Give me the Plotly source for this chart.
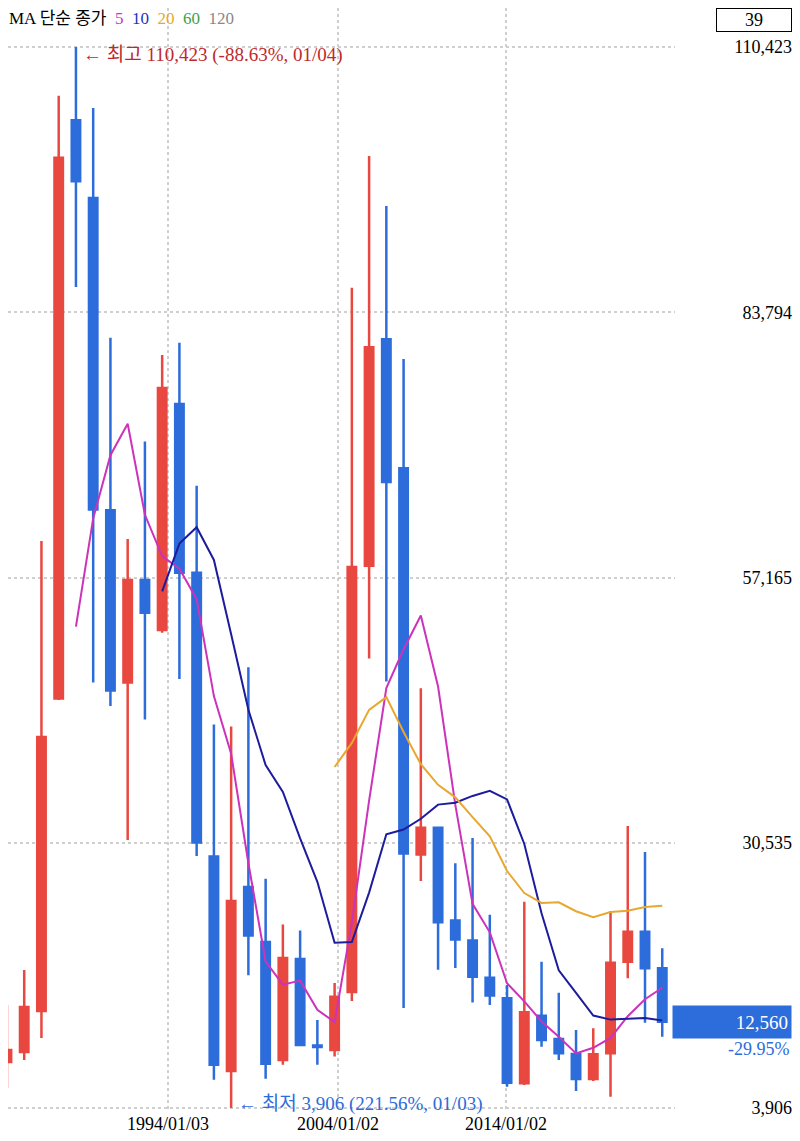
import plotly.graph_objects as go

# yearly candles 1985..2023
years = list(range(1985, 2024))
opens = [8524, 9528, 13645, 45010, 103071, 95270, 63905, 46616, 56917, 51897,
         74588, 57640, 29167, 7621, 26094, 20572, 8735, 18876, 10181, 9739,
         15552, 58343, 81073, 68122, 29347, 32048, 22731, 20713, 16978, 14920,
         6386, 13173, 10834, 9328, 6818, 9398, 18595, 21607, 17931]
highs = [14247, 17761, 60833, 105531, 110423, 104306, 81234, 61034, 70823, 79507,
         80742, 66385, 42409, 42209, 48152, 26918, 22329, 21727, 12741, 16456,
         86254, 99487, 94467, 79106, 46034, 32118, 28484, 31014, 23303, 16255,
         24619, 18595, 15482, 11737, 11908, 23685, 32219, 29608, 19940]
lows = [5914, 8725, 10934, 44869, 86334, 46616, 44267, 30813, 42911, 51626,
        46978, 29207, 6747, 3906, 17229, 6848, 8243, 10131, 8243, 9087,
        14649, 49026, 46727, 13946, 26697, 17781, 17962, 14498, 14247, 6045,
        6215, 10061, 8725, 5613, 6617, 5041, 16928, 12470, 11065]
closes = [9729, 14046, 41154, 99316, 96957, 63995, 45813, 56917, 53634, 76194,
          57640, 30572, 8243, 24689, 21225, 8344, 18976, 10231, 10030, 15081,
          58222, 80270, 66756, 29458, 32048, 22560, 20833, 17089, 15191, 6446,
          13514, 10733, 9398, 6818, 9297, 18494, 21607, 17932, 12560]

ma5 = [52240, 63094, 69447, 72600, 63463, 59311, 58040, 54991, 45257, 39468,
       28474, 18615, 16295, 16693, 13761, 12532, 22508, 34767, 46072, 49957,
       53351, 46218, 34331, 24398, 21544, 16424, 14615, 12595, 11056, 9382,
       9952, 10948, 13123, 14830, 15978]
ma10 = [55776, 60567, 62219, 58928, 51465, 43892, 38327, 35643, 30975, 26614,
        20503, 20561, 25531, 31382, 31859, 32942, 34363, 34549, 35235, 35751,
        34887, 30417, 23463, 17727, 15463, 13188, 12781, 12859, 12943, 12680]
ma20 = [38139, 40564, 43875, 45155, 41662, 38417, 36345, 35096, 33105, 31183,
        27695, 25489, 24497, 24555, 23661, 23065, 23572, 23704, 24089, 24215]

y_ticks = [3906, 30535, 57165, 83794, 110423]
x_tick_pos = [1994.34, 2004.2, 2013.94]
x_tick_text = ['1994/01/03', '2004/01/02', '2014/01/02']

RED = '#e8483f'
BLUE = '#2d6cdb'
FONT = 'Liberation Serif, Noto Sans CJK KR'
GRID = '#cfcfcf'

fig = go.Figure()
fig.add_trace(go.Candlestick(
    x=years, open=opens, high=highs, low=lows, close=closes,
    increasing=dict(line=dict(color=RED, width=2.5), fillcolor=RED),
    decreasing=dict(line=dict(color=BLUE, width=2.5), fillcolor=BLUE),
    whiskerwidth=0, showlegend=False))
fig.add_trace(go.Scatter(x=years[4:], y=ma5, mode='lines',
                         line=dict(color='#cc33bb', width=2), showlegend=False))
fig.add_trace(go.Scatter(x=years[9:], y=ma10, mode='lines',
                         line=dict(color='#1c1c9c', width=2), showlegend=False))
fig.add_trace(go.Scatter(x=years[19:], y=ma20, mode='lines',
                         line=dict(color='#e8a830', width=2), showlegend=False))

fig.update_layout(
    width=784, height=1125,
    margin=dict(l=0, r=0, t=0, b=22),
    plot_bgcolor='white', paper_bgcolor='white',
    font=dict(family=FONT, size=18, color='black'),
    xaxis=dict(domain=[0, 0.851], range=[1985.06, 2023.75],
               rangeslider=dict(visible=False),
               tickvals=x_tick_pos, ticktext=x_tick_text, ticks='',
               showgrid=True, gridcolor=GRID, griddash='dot', gridwidth=1.5,
               zeroline=False, showline=False),
    yaxis=dict(range=[3605, 114339], anchor='free', position=1.0, side='left',
               tickvals=y_ticks, tickformat=',d', ticks='',
               showgrid=True, gridcolor=GRID, griddash='dot', gridwidth=1.5,
               zeroline=False, showline=False),
)

fig.add_annotation(
    xref='paper', yref='paper', x=0.0, y=1.0, xanchor='left', yanchor='top',
    showarrow=False, font=dict(size=17), borderpad=0,
    text=("MA 단순 종가  <span style='color:#cc33cc'>5</span>  "
          "<span style='color:#2233bb'>10</span>  "
          "<span style='color:#e8a830'>20</span>  "
          "<span style='color:#44a044'>60</span>  "
          "<span style='color:#888888'>120</span>"))
fig.add_annotation(
    xref='paper', yref='paper', x=1.0, y=1.0, xanchor='right', yanchor='top',
    showarrow=False, text='39', width=72, height=20, bordercolor='black', borderwidth=1,
    font=dict(size=18))
fig.add_annotation(
    x=years[4] + 0.3, y=highs[4], xanchor='left', yanchor='middle', yshift=-8,
    showarrow=False, text='← 최고 110,423 (-88.63%, 01/04)',
    font=dict(color='#c0282c', size=19))
fig.add_annotation(
    x=years[13] + 0.3, y=lows[13], xanchor='left', yanchor='middle', yshift=4,
    showarrow=False, text='← 최저 3,906 (221.56%, 01/03)',
    font=dict(color=BLUE, size=19))
fig.add_annotation(
    xref='paper', x=1.0, y=closes[-1], xanchor='right', yanchor='middle',
    showarrow=False, text='12,560', width=112, height=26, align='right', borderpad=3,
    bgcolor=BLUE, font=dict(color='white', size=19))
fig.add_annotation(
    xref='paper', x=1.0, y=closes[-1], xanchor='right', yanchor='top', yshift=-15,
    showarrow=False, text='-29.95%', font=dict(color=BLUE, size=18))

fig.write_html("out.html")
